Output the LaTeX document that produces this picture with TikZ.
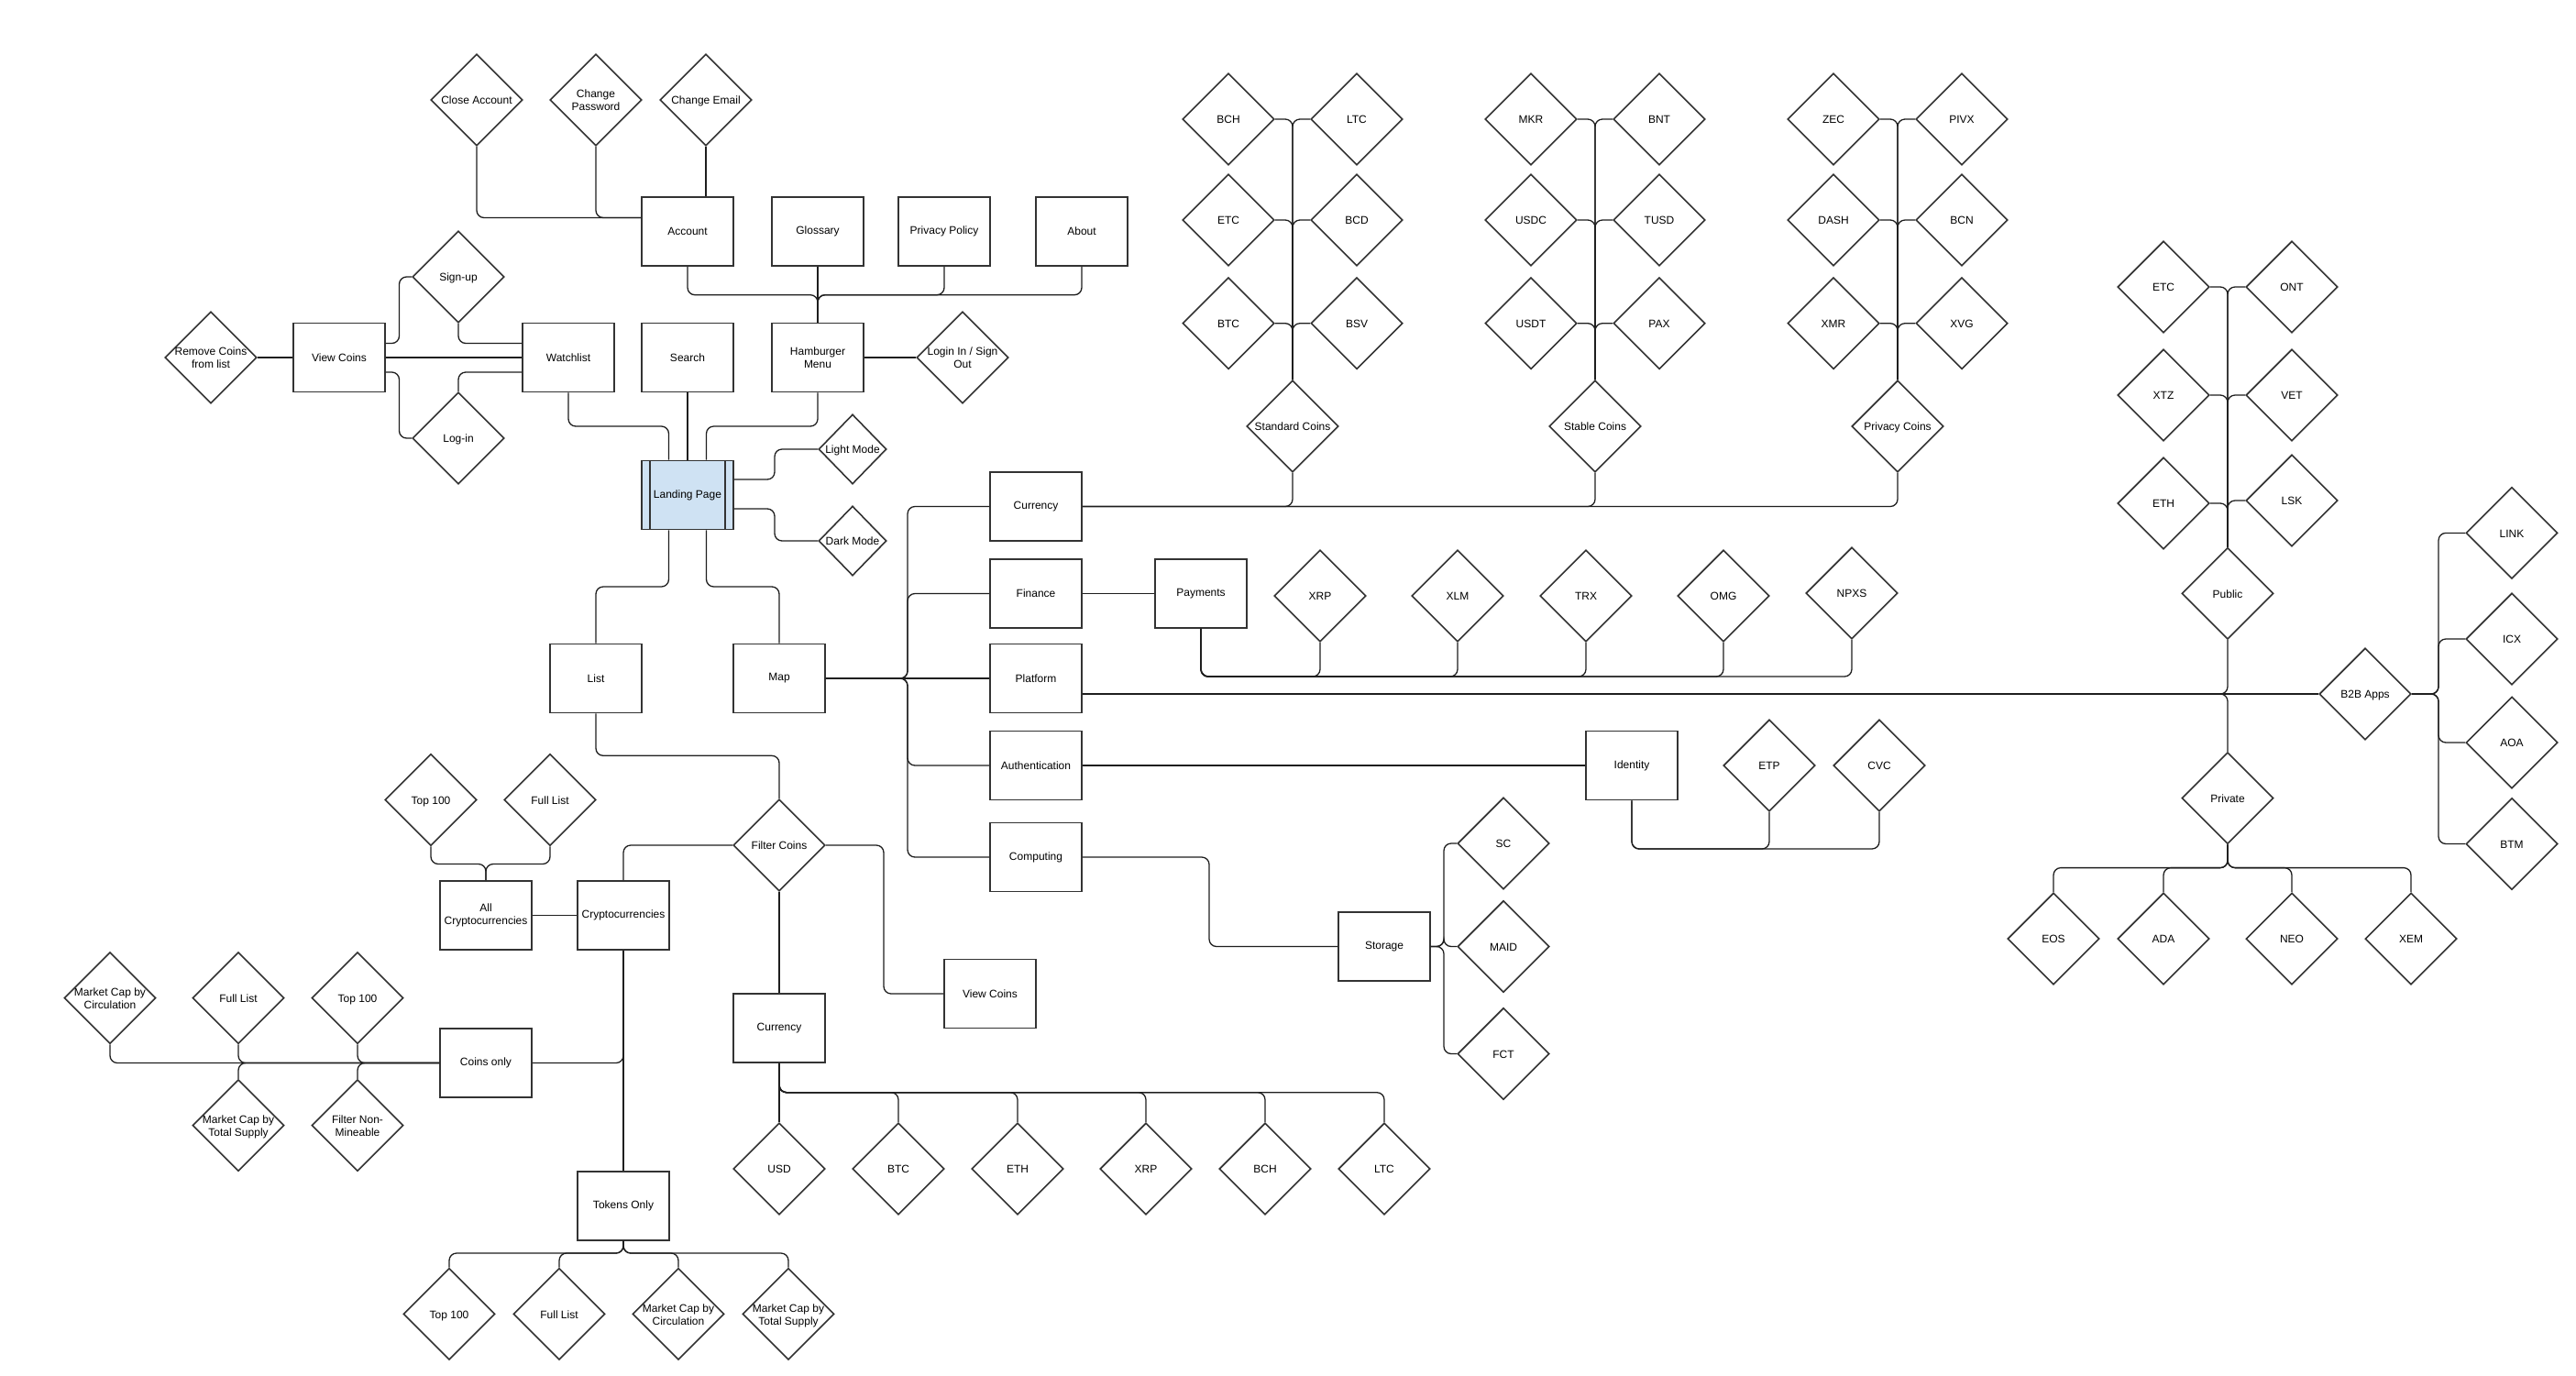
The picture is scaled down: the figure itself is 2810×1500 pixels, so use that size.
\documentclass[tikz,border=0pt]{standalone}
\usepackage{fontspec}
\setmainfont{Liberation Sans}
\usetikzlibrary{shapes.geometric}
\definecolor{lpfill}{RGB}{207,226,243}
\definecolor{shp}{RGB}{51,51,51}
\definecolor{edg}{RGB}{30,30,30}
\newcommand{\dtx}[1]{\makebox[0pt]{\raisebox{-4.8pt}[0pt][0pt]{\begin{tabular}{@{}c@{}}#1\end{tabular}}}}
\tikzset{
  box/.style={draw=shp, line width=1.6pt, fill=white, rectangle, minimum width=100pt, minimum height=75pt, inner sep=2pt, align=center},
  dia/.style={draw=shp, line width=1.6pt, fill=white, diamond, minimum width=100pt, minimum height=100pt, inner sep=0pt},
  sdia/.style={dia, minimum width=74pt, minimum height=76pt},
  e/.style={draw=edg, line width=1.3pt, rounded corners=8pt},
}
\begin{document}
\begin{tikzpicture}[x=1pt,y=-1pt,font=\fontsize{12}{14}\selectfont]
\fill[white] (0,0) rectangle (2810,1500);
\useasboundingbox (0,0) rectangle (2810,1500);

% ---------- top left ----------
\node[dia] (ca) at (520,109) {\dtx{Close Account}};
\node[dia] (cp) at (650,109) {\dtx{Change\\Password}};
\node[dia] (ce) at (770,109) {\dtx{Change Email}};
\node[box] (acc) at (750,252.5) {Account};
\node[box] (glo) at (892,252.5) {Glossary};
\node[box] (pp) at (1030,252.5) {Privacy Policy};
\node[box] (about) at (1180,252.5) {About};
\node[dia] (signup) at (500,302) {\dtx{Sign-up}};
\node[dia] (rc) at (230,390) {\dtx{Remove Coins\\from list}};
\node[box] (vca) at (370,390) {View Coins};
\node[box] (watch) at (620,390) {Watchlist};
\node[box] (search) at (750,390) {Search};
\node[box] (ham) at (892,390) {Hamburger\\Menu};
\node[dia] (login) at (1050,390) {\dtx{Login In / Sign\\Out}};
\node[dia] (logi) at (500,478) {\dtx{Log-in}};
\node[box, fill=lpfill] (lp) at (750,540) {Landing Page};
\draw[shp, line width=1.6pt] ([xshift=10pt]lp.north west) -- ([xshift=10pt]lp.south west);
\draw[shp, line width=1.6pt] ([xshift=-10pt]lp.north east) -- ([xshift=-10pt]lp.south east);
\node[sdia] (light) at (930,490) {\dtx{Light Mode}};
\node[sdia] (dark) at (930,590) {\dtx{Dark Mode}};
\node[box] (list) at (650,740) {List};
\node[box] (map) at (850,740) {Map};

% ---------- map branches ----------
\node[box] (cur) at (1130,552.5) {Currency};
\node[box] (fin) at (1130,647.5) {Finance};
\node[box] (plat) at (1130,740) {Platform};
\node[box] (auth) at (1130,835) {Authentication};
\node[box] (comp) at (1130,935) {Computing};
\node[box] (pay) at (1310,647.5) {Payments};
\foreach \n/\x/\y/\t in {pa/1440/650/XRP, pb/1590/650/XLM, pc/1730/650/TRX, pd/1880/650/OMG, pe/2020/647/NPXS}
  \node[dia] (\n) at (\x,\y) {\dtx{\t}};
\node[box] (ident) at (1780,835) {Identity};
\node[dia] (etp) at (1930,835) {\dtx{ETP}};
\node[dia] (cvc) at (2050,835) {\dtx{CVC}};
\node[box] (stor) at (1510,1032.5) {Storage};
\node[dia] (sc) at (1640,920) {\dtx{SC}};
\node[dia] (maid) at (1640,1032.5) {\dtx{MAID}};
\node[dia] (fct) at (1640,1149.5) {\dtx{FCT}};

% ---------- coin groups ----------
\node[dia] (std) at (1410,465) {\dtx{Standard Coins}};
\node[dia] (stb) at (1740,465) {\dtx{Stable Coins}};
\node[dia] (prv) at (2070,465) {\dtx{Privacy Coins}};
\foreach \n/\x/\y/\t in {sa/1340/130/BCH, sb/1480/130/LTC, sc2/1340/240/ETC, sd/1480/240/BCD, se/1340/352.7/BTC, sf/1480/352.7/BSV,
  ta/1670/130/MKR, tb/1810/130/BNT, tc/1670/240/USDC, td/1810/240/TUSD, te/1670/352.7/USDT, tf/1810/352.7/PAX,
  ua/2000/130/ZEC, ub/2140/130/PIVX, uc/2000/240/DASH, ud/2140/240/BCN, ue/2000/352.7/XMR, uf/2140/352.7/XVG}
  \node[dia] (\n) at (\x,\y) {\dtx{\t}};

% ---------- platform ----------
\node[dia] (pub) at (2430,647.4) {\dtx{Public}};
\node[dia] (pri) at (2430,870.6) {\dtx{Private}};
\node[dia] (b2b) at (2580,757) {\dtx{B2B Apps}};
\foreach \n/\x/\y/\t in {va/2360/313/ETC, vb/2500/313/ONT, vc/2360/431/XTZ, vd/2500/431/VET, ve/2360/549/ETH, vf/2500/546/LSK,
  wa/2240/1024/EOS, wb/2360/1024/ADA, wc/2500/1024/NEO, wd/2630/1024/XEM,
  xa/2740/581.4/LINK, xb/2740/697/ICX, xc/2740/810/AOA, xd/2740/920.5/BTM}
  \node[dia] (\n) at (\x,\y) {\dtx{\t}};

% ---------- bottom left ----------
\node[dia] (topa) at (470,872.5) {\dtx{Top 100}};
\node[dia] (fla) at (600,872.5) {\dtx{Full List}};
\node[box] (allc) at (530,998.5) {All\\Cryptocurrencies};
\node[box] (cry) at (680,998.5) {Cryptocurrencies};
\node[dia] (fc) at (850,922) {\dtx{Filter Coins}};
\node[box] (vcb) at (1080,1084) {View Coins};
\node[box] (curb) at (850,1121.5) {Currency};
\node[box] (coins) at (530,1159.5) {Coins only};
\node[box] (tok) at (680,1315.3) {Tokens Only};
\node[dia] (mcca) at (120,1088.6) {\dtx{Market Cap by\\Circulation}};
\node[dia] (flb) at (260,1088.6) {\dtx{Full List}};
\node[dia] (topb) at (390,1088.6) {\dtx{Top 100}};
\node[dia] (mcsa) at (260,1227.6) {\dtx{Market Cap by\\Total Supply}};
\node[dia] (fnm) at (390,1227.6) {\dtx{Filter Non-\\Mineable}};
\node[dia] (topc) at (490,1433.4) {\dtx{Top 100}};
\node[dia] (flc) at (610,1433.4) {\dtx{Full List}};
\node[dia] (mccb) at (740,1433.4) {\dtx{Market Cap by\\Circulation}};
\node[dia] (mcsb) at (860,1433.4) {\dtx{Market Cap by\\Total Supply}};
\foreach \n/\x/\t in {ya/850/USD, yb/980/BTC, yc/1110/ETH, yd/1250/XRP, ye/1380/BCH, yf/1510/LTC}
  \node[dia] (\n) at (\x,1275) {\dtx{\t}};

% ================= edges =================
\draw[e] (ca.south) |- ([yshift=15pt]acc.west);
\draw[e] (cp.south) |- ([yshift=15pt]acc.west);
\draw[e] (ce.south) -- (ce.south |- acc.north);
\draw[e] (ham.north) -- (892,321.7) -| (acc.south);
\draw[e] (ham.north) -- (glo.south);
\draw[e] (ham.north) -- (892,321.7) -| (pp.south);
\draw[e] (ham.north) -- (892,321.7) -| (about.south);
\draw[e] (ham.east) -- (login.west);
\draw[e] (rc.east) -- (vca.west);
\draw[e] (vca.east) -- (watch.west);
\draw[e] ([yshift=15.5pt]vca.east) -- (435.5,374.5) |- (signup.west);
\draw[e] ([yshift=-16pt]vca.east) -- (435.5,406) |- (logi.west);
\draw[e] (signup.south) |- ([yshift=15.5pt]watch.west);
\draw[e] (logi.north) |- ([yshift=-16pt]watch.west);
\draw[e] ([xshift=-20.5pt]lp.north) -- (729.5,465) -| (watch.south);
\draw[e] (lp.north) -- (search.south);
\draw[e] ([xshift=20.5pt]lp.north) -- (770.5,465) -| (ham.south);
\draw[e] ([yshift=17pt]lp.east) -- (845,523) |- (light.west);
\draw[e] ([yshift=-15pt]lp.east) -- (845,555) |- (dark.west);
\draw[e] ([xshift=-20.5pt]lp.south) -- (729.5,640) -| (list.north);
\draw[e] ([xshift=20.5pt]lp.south) -- (770.5,640) -| (map.north);
\draw[e] (list.south) -- (650,824.3) -| (fc.north);

\foreach \n in {cur,fin,auth,comp} \draw[e] (map.east) -- (990,740) |- (\n.west);
\draw[e] (map.east) -- (plat.west);

\foreach \n in {std,stb,prv} \draw[e] (cur.east) -| (\n.south);
\foreach \n in {sa,sc2,se} \draw[e] (std.north) |- (\n.east);
\foreach \n in {sb,sd,sf} \draw[e] (std.north) |- (\n.west);
\foreach \n in {ta,tc,te} \draw[e] (stb.north) |- (\n.east);
\foreach \n in {tb,td,tf} \draw[e] (stb.north) |- (\n.west);
\foreach \n in {ua,uc,ue} \draw[e] (prv.north) |- (\n.east);
\foreach \n in {ub,ud,uf} \draw[e] (prv.north) |- (\n.west);

\draw[e] (fin.east) -- (pay.west);
\foreach \n in {pa,pb,pc,pd,pe} \draw[e] (pay.south) -- (1310,738) -| (\n.south);

\draw[e] ([yshift=-17pt]plat.east) -| (pub.south);
\draw[e] ([yshift=-17pt]plat.east) -- (b2b.west);
\draw[e] ([yshift=-17pt]plat.east) -| (pri.north);
\foreach \n in {va,vc,ve} \draw[e] (pub.north) |- (\n.east);
\foreach \n in {vb,vd,vf} \draw[e] (pub.north) |- (\n.west);
\foreach \n in {wa,wb,wc,wd} \draw[e] (pri.south) -- (2430,946.6) -| (\n.north);
\foreach \n in {xa,xb,xc,xd} \draw[e] (b2b.east) -- (2660,757) |- (\n.west);

\draw[e] (auth.east) -- (ident.west);
\foreach \n in {etp,cvc} \draw[e] (ident.south) -- (1780,926) -| (\n.south);
\draw[e] (comp.east) -- (1319,935) |- (stor.west);
\foreach \n in {sc,maid,fct} \draw[e] (stor.east) -- (1575,1032.5) |- (\n.west);

\draw[e] (topa.south) -- (470,942.5) -| (allc.north);
\draw[e] (fla.south) -- (600,942.5) -| (allc.north);
\draw[e] (allc.east) -- (cry.west);
\draw[e] (fc.west) -| (cry.north);
\draw[e] (fc.east) -- (964,922) |- (vcb.west);
\draw[e] (fc.south) -- (curb.north);
\draw[e] (cry.south) |- (coins.east);
\draw[e] (cry.south) -- (tok.north);
\foreach \n in {mcca,flb,topb} \draw[e] (coins.west) -| (\n.south);
\foreach \n in {mcsa,fnm} \draw[e] (coins.west) -| (\n.north);
\foreach \n in {topc,flc,mccb,mcsb} \draw[e] (tok.south) -- (680,1367) -| (\n.north);
\foreach \n in {ya,yb,yc,yd,ye,yf} \draw[e] (curb.south) -- (850,1191.7) -| (\n.north);
\end{tikzpicture}
\end{document}
